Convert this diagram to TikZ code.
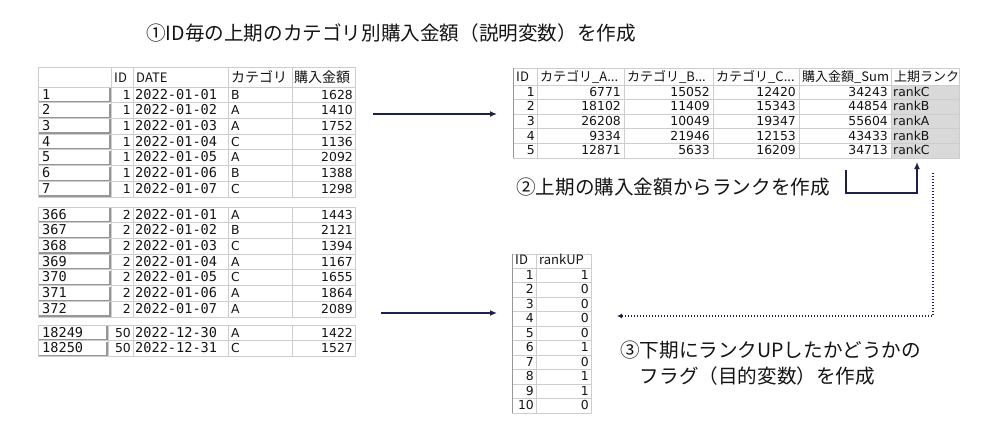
\documentclass[tikz,border=0pt]{standalone}
\usepackage{fontspec}
\setmainfont{DejaVu Sans}
\newfontfamily\jp{Noto Sans CJK JP}
\newfontfamily\monof{DejaVu Sans Mono}
\usetikzlibrary{arrows.meta}

\definecolor{navy}{RGB}{28,32,78}
\definecolor{gridgray}{RGB}{205,205,205}
\definecolor{btngray}{RGB}{150,150,150}
\definecolor{rankgray}{RGB}{217,217,217}
\definecolor{ink}{RGB}{20,20,20}

\tikzset{
  cell/.style={draw=gridgray, line width=0.8pt},
  btn/.style={draw=btngray, line width=1.4pt},
  txl/.style={anchor=base west, inner sep=0pt, text=ink, font=\fontsize{12.4}{13}\selectfont},
  txr/.style={anchor=base east, inner sep=0pt, text=ink, font=\fontsize{12.4}{13}\selectfont},
  mtxl/.style={txl, font=\monof\fontsize{13.6}{14}\selectfont},
  hd/.style={anchor=base west, inner sep=0pt, text=ink, font=\jp\fontsize{13}{14}\selectfont},
  title/.style={inner sep=0pt, text=ink, align=left, font=\jp\fontsize{19.6}{26}\selectfont},
  flow/.style={draw=navy, line width=1.6pt, -{Latex[length=7pt,width=6pt]}},
  dotflow/.style={draw=navy, line width=1.5pt, dash pattern=on 1.4pt off 1.6pt, -{Latex[length=5pt,width=5pt]}}
}

% one block of the purchase table
\newcommand{\srcrows}[4]{%
  \foreach \ix/\id/\dt/\cat/\amt [count=\k] in {#4} {
    \pgfmathsetmacro{\ya}{#2+(\k-1)*15.7}
    \pgfmathsetmacro{\yb}{\ya+15.7}
    \pgfmathsetmacro{\yt}{\yb-3.6}
    \draw[cell] (38,\ya) rectangle (355,\yb);
    \draw[cell] (#3,\ya) -- (#3,\yb) (133,\ya) -- (133,\yb) (228,\ya) -- (228,\yb) (292,\ya) -- (292,\yb);
    \draw[btn] (39,\yb-1) -- (#3-1,\yb-1) -- (#3-1,\ya+1);
    \node[mtxl] (#1-\k-ix) at (42,\yt) {\ix};
    \node[txr] (#1-\k-id) at (131,\yt) {\id};
    \node[mtxl] (#1-\k-dt) at (135,\yt) {\dt};
    \node[txl] (#1-\k-cat) at (231,\yt) {\cat};
    \node[txr] (#1-\k-amt) at (353,\yt) {\amt};
  }%
}

\begin{document}
\begin{tikzpicture}[x=1pt, y=-1pt]
  \useasboundingbox (0,0) rectangle (1000,447);

  % 見出し
  \node[title, anchor=west] (step1) at (146,33) {①ID毎の上期のカテゴリ別購入金額（説明変数）を作成};
  \node[title, anchor=west] (step2) at (516,187) {②上期の購入金額からランクを作成};
  \node[title, anchor=north west] (step3) at (620,341) {③下期にランクUPしたかどうかの\\　フラグ（目的変数）を作成};

  % 購入データ
  \draw[cell] (38,67) rectangle (355,87);
  \foreach \cx in {111,133,228,292} \draw[cell] (\cx,67) -- (\cx,87);
  \node[hd] (src-h-id) at (114,82.5) {ID};
  \node[hd] (src-h-dt) at (136,82.5) {DATE};
  \node[hd, font=\jp\fontsize{14}{15}\selectfont] (src-h-cat) at (231,82.5) {カテゴリ};
  \node[hd, font=\jp\fontsize{14}{15}\selectfont] (src-h-amt) at (294,82.5) {購入金額};
  \srcrows{sa}{87}{111}{1/1/2022-01-01/B/1628, 2/1/2022-01-02/A/1410, 3/1/2022-01-03/A/1752, 4/1/2022-01-04/C/1136, 5/1/2022-01-05/A/2092, 6/1/2022-01-06/B/1388, 7/1/2022-01-07/C/1298}
  \srcrows{sb}{207}{111}{366/2/2022-01-01/A/1443, 367/2/2022-01-02/B/2121, 368/2/2022-01-03/C/1394, 369/2/2022-01-04/A/1167, 370/2/2022-01-05/C/1655, 371/2/2022-01-06/A/1864, 372/2/2022-01-07/A/2089}
  \srcrows{sc}{325}{108}{18249/50/2022-12-30/A/1422, 18250/50/2022-12-31/C/1527}

  % 集計テーブル
  \fill[rankgray] (891,85) rectangle (959,158);
  \draw[cell] (513,68) rectangle (959,158);
  \foreach \cx in {537,624,713,799,891} \draw[cell] (\cx,68) -- (\cx,158);
  \foreach \k in {0,...,4} \draw[cell] (513,85+\k*14.6) -- (959,85+\k*14.6);
  \draw[btn, line width=1.1pt] (513.5,68) -- (513.5,158);
  \node[hd] (agg-h-id) at (516,81) {ID};
  \node[hd] (agg-h-a) at (540,81) {カテゴリ\_A...};
  \node[hd] (agg-h-b) at (627,81) {カテゴリ\_B...};
  \node[hd] (agg-h-c) at (716,81) {カテゴリ\_C...};
  \node[hd] (agg-h-s) at (802,81) {購入金額\_Sum};
  \node[hd] (agg-h-r) at (894,81) {上期ランク};
  \foreach \id/\va/\vb/\vc/\vs/\rk [count=\k] in {1/6771/15052/12420/34243/rankC, 2/18102/11409/15343/44854/rankB, 3/26208/10049/19347/55604/rankA, 4/9334/21946/12153/43433/rankB, 5/12871/5633/16209/34713/rankC} {
    \pgfmathsetmacro{\yt}{85+\k*14.6-3.3}
    \node[txr] (agg-\k-id) at (535,\yt) {\id};
    \node[txr] (agg-\k-a) at (621,\yt) {\va};
    \node[txr] (agg-\k-b) at (710,\yt) {\vb};
    \node[txr] (agg-\k-c) at (796,\yt) {\vc};
    \node[txr] (agg-\k-s) at (888,\yt) {\vs};
    \node[txl] (agg-\k-r) at (893,\yt) {\rk};
  }

  % フラグテーブル
  \draw[cell] (512,254) rectangle (591,413);
  \draw[cell] (536,254) -- (536,413);
  \foreach \k in {0,...,9} \draw[cell] (512,268+\k*14.5) -- (591,268+\k*14.5);
  \draw[btn, line width=1.1pt] (512.5,254) -- (512.5,413);
  \node[hd] (flg-h-id) at (515,264.5) {ID};
  \node[hd] (flg-h-up) at (539,264.5) {rankUP};
  \foreach \id/\up [count=\k] in {1/1, 2/0, 3/0, 4/0, 5/0, 6/1, 7/0, 8/1, 9/1, 10/0} {
    \pgfmathsetmacro{\yt}{268+\k*14.5-3.3}
    \node[txr] (flg-\k-id) at (534,\yt) {\id};
    \node[txr] (flg-\k-up) at (589,\yt) {\up};
  }

  % 矢印
  \coordinate (srcout) at (373,114);
  \coordinate (aggin) at (497,114);
  \coordinate (src2out) at (381,313);
  \coordinate (flgin) at (497,313);
  \coordinate (rkfrom) at (846,170);
  \coordinate (rkto) at (917,162);
  \coordinate (dotfrom) at (933,173);
  \coordinate (dotto) at (617,316);
  \draw[flow] (srcout) -- (aggin);
  \draw[flow] (src2out) -- (flgin);
  \draw[flow] (rkfrom) -- ++(0,23) -| (rkto);
  \draw[dotflow] (dotfrom) |- (dotto);
\end{tikzpicture}
\end{document}
